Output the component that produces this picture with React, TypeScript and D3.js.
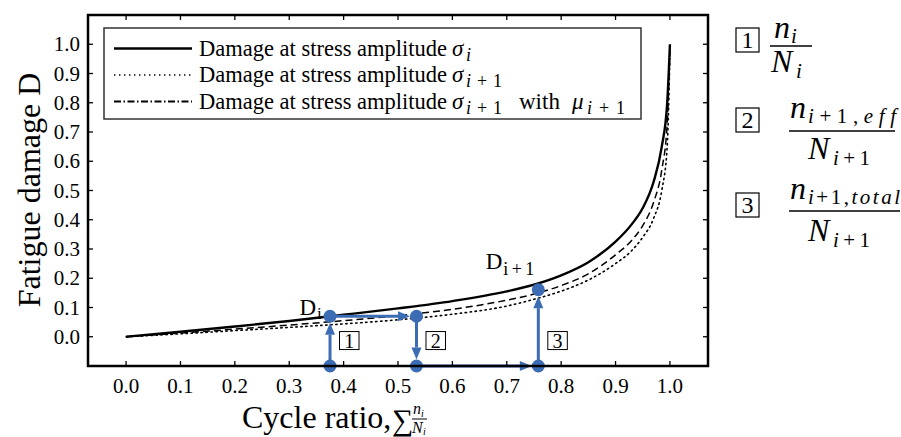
import React from 'react';
import * as d3 from 'd3';

// ---- data ----
const CYCLE_RATIO = [0, 0.1, 0.2, 0.3, 0.4, 0.5, 0.6, 0.7, 0.75, 0.8, 0.85, 0.9, 0.93, 0.95, 0.97, 0.985, 0.995, 1.0];
const DAMAGE_SIGMA_I = [0, 0.017, 0.035, 0.054, 0.075, 0.097, 0.122, 0.155, 0.178, 0.21, 0.255, 0.325, 0.385, 0.44, 0.53, 0.65, 0.8, 1.0];
const DAMAGE_SIGMA_I1_MU = [0, 0.013, 0.026, 0.04, 0.055, 0.072, 0.094, 0.125, 0.146, 0.175, 0.215, 0.28, 0.33, 0.38, 0.46, 0.57, 0.73, 0.98];
const DAMAGE_SIGMA_I1 = [0, 0.01, 0.021, 0.032, 0.044, 0.058, 0.077, 0.105, 0.128, 0.156, 0.194, 0.25, 0.295, 0.34, 0.405, 0.5, 0.65, 0.97];
const X_TICKS = [0, 0.1, 0.2, 0.3, 0.4, 0.5, 0.6, 0.7, 0.8, 0.9, 1.0];
const Y_TICKS = [0, 0.1, 0.2, 0.3, 0.4, 0.5, 0.6, 0.7, 0.8, 0.9, 1.0];
const PATH_X = [0.375, 0.375, 0.534, 0.534, 0.758, 0.758];
const PATH_D = [-0.1, 0.07, 0.07, -0.1, -0.1, 0.161];
const STEP_LABELS = ['1', '2', '3'];
const STEP_AT = [0, 2, 4];

const BLUE = '#3c6db4';
const SERIF = '"Liberation Serif", "Times New Roman", serif';

export default function App() {
  const L = 88, R = 708, T = 15, B = 366;
  const x = d3.scaleLinear().domain([-0.07, 1.07]).range([L, R]);
  const y = d3.scaleLinear().domain([-0.1, 1.1]).range([B, T]);

  const line = d3.line<number>()
    .x((_, i) => x(CYCLE_RATIO[i]))
    .curve(d3.curveMonotoneX);
  const mk = (arr: number[]) => line.y((d) => y(d))(arr) || '';

  const pts = PATH_X.map((v, i) => [x(v), y(PATH_D[i])]);
  const rMark = 6.5;
  const arrows = pts.slice(0, -1).map((p, i) => {
    const q = pts[i + 1];
    const dx = q[0] - p[0], dy = q[1] - p[1];
    const len = Math.hypot(dx, dy);
    const ux = dx / len, uy = dy / len;
    const tip = [q[0] - ux * rMark, q[1] - uy * rMark];
    const hl = 12, hw = 5;
    const base = [tip[0] - ux * hl, tip[1] - uy * hl];
    const head = [
      tip,
      [base[0] - uy * hw, base[1] + ux * hw],
      [base[0] + uy * hw, base[1] - ux * hw],
    ];
    return { p, base, head };
  });

  const fs = 21;
  const legendRows = [
    { dash: 'none', w: 2.3 },
    { dash: '1.4,3.6', w: 1.6 },
    { dash: '7,2.5,1.5,2.5', w: 1.8 },
  ];

  const keys = [
    { by: 28, nx: 774, ny: 38, ns: 'i', nsl: 0, nsx: 791, dx: 771, dy: 72, ds: 'i', dsl: 0, dsx: 796, x1: 770, x2: 812, bar: 46 },
    { by: 108, nx: 790, ny: 118, ns: 'i+1,eff', nsl: 88, nsx: 808, dx: 808, dy: 159, ds: 'i+1', dsl: 37, dsx: 833, x1: 789, x2: 895, bar: 131 },
    { by: 193, nx: 790, ny: 199, ns: 'i+1,total', nsl: 92, nsx: 808, dx: 808, dy: 241, ds: 'i+1', dsl: 37, dsx: 833, x1: 789, x2: 900, bar: 211 },
  ];

  const subText = (s: string) => {
    const parts = s.match(/[a-z]+|[^a-z]+/g) || [];
    return parts.map((p, i) => (
      <tspan key={i} fontStyle={/[a-z]/.test(p) ? 'italic' : 'normal'}>{p}</tspan>
    ));
  };

  return (
    <svg width={901} height={437} style={{ position: 'absolute', left: 0, top: 0, background: '#fff' }} fontFamily={SERIF}>
      <rect x={0} y={0} width={901} height={437} fill="#fff" />
      {/* curves */}
      <path d={mk(DAMAGE_SIGMA_I1)} fill="none" stroke="#000" strokeWidth={1.6} strokeDasharray="1.4,3.6" strokeLinecap="round" />
      <path d={mk(DAMAGE_SIGMA_I1_MU)} fill="none" stroke="#000" strokeWidth={1.5} strokeDasharray="7,4" />
      <path d={mk(DAMAGE_SIGMA_I)} fill="none" stroke="#000" strokeWidth={2.4} />

      {/* legend */}
      <rect x={104} y={28} width={537} height={91} fill="#fff" stroke="#333" strokeWidth={1.5} />
      {legendRows.map((r, i) => {
        const ly = 48.5 + i * 26.5;
        return (
          <g key={i}>
            <line x1={114} x2={192} y1={ly} y2={ly} stroke="#000" strokeWidth={r.w} strokeDasharray={r.dash} />
            <text x={199} y={ly + 7} fontSize={22.5} textLength={248} lengthAdjust="spacingAndGlyphs">Damage at stress amplitude</text>
            <text x={452} y={ly + 7} fontSize={23} fontStyle="italic">σ</text>
            {i === 0 ? (
              <text x={466} y={ly + 12} fontSize={18} fontStyle="italic">i</text>
            ) : (
              <text x={466} y={ly + 12} fontSize={18} textLength={36} lengthAdjust="spacing">{subText('i+1')}</text>
            )}
            {i === 2 && (
              <>
                <text x={519} y={ly + 7} fontSize={23}>with</text>
                <text x={572} y={ly + 7} fontSize={23} fontStyle="italic">μ</text>
                <text x={587} y={ly + 12} fontSize={18} textLength={38} lengthAdjust="spacing">{subText('i+1')}</text>
              </>
            )}
          </g>
        );
      })}

      {/* step path */}
      {arrows.map((a, i) => (
        <g key={i}>
          <line x1={a.p[0]} y1={a.p[1]} x2={a.base[0]} y2={a.base[1]} stroke={BLUE} strokeWidth={3} />
          <polygon points={a.head.map((h) => h.join(',')).join(' ')} fill={BLUE} />
        </g>
      ))}
      {pts.map((p, i) => (
        <circle key={i} cx={p[0]} cy={p[1]} r={rMark} fill={BLUE} />
      ))}
      {STEP_LABELS.map((s, i) => {
        const bx = x(PATH_X[STEP_AT[i]]) + 9.5;
        const by = y(-0.013);
        return (
          <g key={s}>
            <rect x={bx} y={by - 9} width={19.5} height={18} fill="#fff" stroke="#000" strokeWidth={1} />
            <text x={bx + 9.75} y={by + 7} fontSize={20} textAnchor="middle">{s}</text>
          </g>
        );
      })}
      <text x={x(PATH_X[1]) - 14} y={y(PATH_D[1]) - 1} fontSize={23} textAnchor="end">D</text>
      <text x={x(PATH_X[1]) - 13} y={y(PATH_D[1]) + 3} fontSize={17}>i</text>
      <text x={x(PATH_X[5]) - 36} y={y(PATH_D[5]) - 21} fontSize={23} textAnchor="end">D</text>
      <text x={x(PATH_X[5]) - 35} y={y(PATH_D[5]) - 15} fontSize={18} textLength={31} lengthAdjust="spacing">i+1</text>

      {/* frame & ticks */}
      {X_TICKS.map((t) => (
        <g key={'x' + t}>
          <line x1={x(t)} x2={x(t)} y1={B} y2={B - 5} stroke="#000" strokeWidth={1.3} />
          <line x1={x(t)} x2={x(t)} y1={T} y2={T + 5} stroke="#000" strokeWidth={1.3} />
          <text x={x(t)} y={B + 27} fontSize={fs} textAnchor="middle">{t.toFixed(1)}</text>
        </g>
      ))}
      {Y_TICKS.map((t) => (
        <g key={'y' + t}>
          <line x1={L} x2={L + 5} y1={y(t)} y2={y(t)} stroke="#000" strokeWidth={1.3} />
          <line x1={R} x2={R - 5} y1={y(t)} y2={y(t)} stroke="#000" strokeWidth={1.3} />
          <text x={L - 8} y={y(t) + 7} fontSize={fs} textAnchor="end">{t.toFixed(1)}</text>
        </g>
      ))}
      <rect x={L} y={T} width={R - L} height={B - T} fill="none" stroke="#000" strokeWidth={2.5} />

      {/* axis labels */}
      <text transform="translate(40,190) rotate(-90)" fontSize={32} textAnchor="middle">Fatigue damage D</text>
      <text x={242} y={428} fontSize={32}>Cycle ratio,</text>
      <text x={392} y={430} fontSize={30}>∑</text>
      <text x={413} y={414} fontSize={16} fontStyle="italic">n</text>
      <text x={421} y={417} fontSize={10} fontStyle="italic">i</text>
      <line x1={412} x2={427} y1={419} y2={419} stroke="#000" strokeWidth={1} />
      <text x={412} y={433} fontSize={16} fontStyle="italic">N</text>
      <text x={423} y={435} fontSize={10} fontStyle="italic">i</text>

      {/* right-side key */}
      {keys.map((k, i) => (
        <g key={i}>
          <rect x={736} y={k.by} width={23} height={24} fill="#fff" stroke="#000" strokeWidth={1.2} />
          <text x={747.5} y={k.by + 20} fontSize={24} textAnchor="middle">{i + 1}</text>
          <text x={k.nx} y={k.ny} fontSize={32} fontStyle="italic">n</text>
          {k.nsl ? (
            <text x={k.nsx} y={k.ny + 5} fontSize={21} textLength={k.nsl} lengthAdjust="spacing">{subText(k.ns)}</text>
          ) : (
            <text x={k.nsx} y={k.ny + 5} fontSize={21} fontStyle="italic">{k.ns}</text>
          )}
          <line x1={k.x1} x2={k.x2} y1={k.bar} y2={k.bar} stroke="#000" strokeWidth={1.6} />
          <text x={k.dx} y={k.dy} fontSize={32} fontStyle="italic">N</text>
          {k.dsl ? (
            <text x={k.dsx} y={k.dy + 6} fontSize={21} textLength={k.dsl} lengthAdjust="spacing">{subText(k.ds)}</text>
          ) : (
            <text x={k.dsx} y={k.dy + 6} fontSize={21} fontStyle="italic">{k.ds}</text>
          )}
        </g>
      ))}
    </svg>
  );
}
